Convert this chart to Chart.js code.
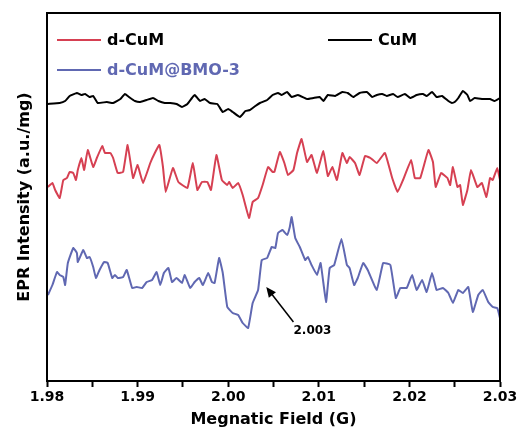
<!DOCTYPE html>
<html>
<head>
<meta charset="utf-8">
<script src="https://cdn.jsdelivr.net/npm/chart.js@4.4.0/dist/chart.umd.min.js"></script>
<style>
  html, body { margin: 0; padding: 0; background: #fff; }
  #wrap { width: 522px; height: 438px; }
</style>
</head>
<body>
<div id="wrap"><canvas id="epr"></canvas></div>
<script>
// magnetic field (G) and intensity (a.u./mg, stacked offsets)
const cumField = [1.9801,1.9814,1.9820,1.9825,1.9833,1.9838,1.9842,1.9847,1.9851,1.9856,1.9866,1.9873,1.9881,1.9886,1.9892,1.9897,1.9903,1.9910,1.9917,1.9923,1.9930,1.9936,1.9943,1.9949,1.9955,1.9960,1.9963,1.9969,1.9974,1.9980,1.9988,1.9994,2.0000,2.0005,2.0013,2.0019,2.0024,2.0030,2.0035,2.0043,2.0049,2.0055,2.0059,2.0065,2.0070,2.0077,2.0087,2.0094,2.0101,2.0105,2.0110,2.0118,2.0126,2.0132,2.0138,2.0145,2.0153,2.0159,2.0164,2.0170,2.0175,2.0182,2.0187,2.0195,2.0201,2.0208,2.0215,2.0219,2.0225,2.0230,2.0236,2.0243,2.0247,2.0250,2.0254,2.0259,2.0264,2.0267,2.0272,2.0281,2.0289,2.0294,2.0300];
const cumIntensity = [277,278,280,285,288,286,287,284,285,278,279,278,282,287,283,280,279,281,283,280,278,278,277,274,277,283,286,280,282,278,277,269,272,269,264,270,271,275,278,281,286,288,286,289,284,286,282,283,284,280,286,285,289,288,284,288,289,284,286,287,285,287,284,287,283,286,287,285,289,284,285,280,278,279,283,290,286,280,283,282,282,280,283];

const dCumField = [1.9801,1.9806,1.9809,1.9814,1.9818,1.9822,1.9825,1.9829,1.9832,1.9834,1.9838,1.9841,1.9845,1.9851,1.9855,1.9861,1.9864,1.9870,1.9873,1.9878,1.9884,1.9889,1.9895,1.9900,1.9906,1.9914,1.9919,1.9924,1.9928,1.9931,1.9939,1.9945,1.9955,1.9961,1.9966,1.9971,1.9977,1.9981,1.9987,1.9993,1.9999,2.0001,2.0005,2.0011,2.0016,2.0023,2.0027,2.0033,2.0038,2.0044,2.0049,2.0051,2.0057,2.0062,2.0066,2.0072,2.0076,2.0081,2.0087,2.0092,2.0098,2.0105,2.0110,2.0115,2.0120,2.0126,2.0131,2.0134,2.0140,2.0145,2.0151,2.0157,2.0164,2.0173,2.0181,2.0187,2.0193,2.0202,2.0206,2.0212,2.0221,2.0226,2.0229,2.0235,2.0242,2.0245,2.0248,2.0253,2.0256,2.0259,2.0264,2.0268,2.0275,2.0280,2.0285,2.0289,2.0292,2.0297,2.0300];
const dCumIntensity = [194,198,191,183,201,203,209,208,201,211,223,211,231,214,223,235,228,228,223,208,209,236,203,216,198,218,228,236,214,189,213,199,193,218,191,199,199,191,226,201,196,199,193,198,186,163,179,183,196,214,209,209,229,218,206,211,228,242,219,226,208,230,205,214,201,228,218,224,218,206,225,223,218,228,203,189,201,221,203,203,231,219,194,208,203,196,214,194,196,176,191,211,194,198,184,203,201,213,201];

const bmoField = [1.9801,1.9806,1.9811,1.9814,1.9818,1.9820,1.9823,1.9829,1.9833,1.9834,1.9840,1.9844,1.9847,1.9851,1.9854,1.9858,1.9863,1.9867,1.9872,1.9875,1.9878,1.9884,1.9888,1.9894,1.9899,1.9905,1.9910,1.9916,1.9921,1.9925,1.9929,1.9934,1.9938,1.9943,1.9949,1.9952,1.9958,1.9963,1.9968,1.9972,1.9978,1.9982,1.9985,1.9990,1.9994,1.9999,2.0005,2.0011,2.0016,2.0022,2.0027,2.0033,2.0037,2.0043,2.0048,2.0052,2.0055,2.0060,2.0065,2.0068,2.0070,2.0074,2.0079,2.0085,2.0088,2.0092,2.0098,2.0102,2.0108,2.0112,2.0117,2.0125,2.0131,2.0134,2.0139,2.0143,2.0149,2.0154,2.0164,2.0171,2.0179,2.0185,2.0190,2.0197,2.0203,2.0208,2.0214,2.0219,2.0225,2.0230,2.0237,2.0243,2.0248,2.0254,2.0259,2.0265,2.0270,2.0276,2.0281,2.0287,2.0292,2.0297,2.0300];
const bmoIntensity = [86,96,109,106,104,96,118,133,128,119,131,123,124,114,103,111,119,118,103,106,103,104,111,93,94,93,99,101,109,96,108,113,99,103,98,106,93,99,103,96,108,99,98,123,108,74,68,66,58,53,78,91,121,123,134,133,148,151,146,154,164,143,134,121,124,116,106,118,79,113,116,142,116,113,96,103,118,111,91,118,116,83,93,93,106,91,101,89,108,91,93,88,78,91,88,94,69,86,91,79,74,73,63];

const seriesNames = ["CuM", "d-CuM", "d-CuM@BMO-3"];
const xTicksMajor = ["1.98", "1.99", "2.00", "2.01", "2.02", "2.03"];

const FONT = "'DejaVu Sans', Arial, sans-serif";

function pairs(xs, ys) {
    return xs.map((x, i) => ({x: x, y: ys[i]}));
}

// legend drawn inside the frame, two columns like the original
const insideLegend = {
    id: 'insideLegend',
    afterDraw(chart) {
        const ctx = chart.ctx;
        const spots = [
            {ds: 1, x: 57, y: 40},
            {ds: 0, x: 328, y: 40},
            {ds: 2, x: 57, y: 70}
        ];
        ctx.save();
        ctx.font = "bold 16px " + FONT;
        ctx.textBaseline = 'middle';
        spots.forEach(s => {
            const ds = chart.data.datasets[s.ds];
            ctx.strokeStyle = ds.borderColor;
            ctx.lineWidth = 2;
            ctx.beginPath();
            ctx.moveTo(s.x, s.y);
            ctx.lineTo(s.x + 44, s.y);
            ctx.stroke();
            ctx.fillStyle = s.ds === 2 ? ds.borderColor : '#000';
            ctx.fillText(ds.label, s.x + 50, s.y + 1);
        });
        ctx.restore();
    }
};

// frame + the "2.003" arrow
const frameAndNote = {
    id: 'frameAndNote',
    afterDatasetsDraw(chart) {
        const ctx = chart.ctx;
        const a = chart.chartArea;
        const xs = chart.scales.x, ys = chart.scales.y;
        ctx.save();
        ctx.strokeStyle = '#000';
        ctx.lineWidth = 2;
        ctx.strokeRect(a.left, a.top, a.right - a.left, a.bottom - a.top);

        const x0 = xs.getPixelForValue(2.0072), y0 = ys.getPixelForValue(59);
        const x1 = xs.getPixelForValue(2.0042), y1 = ys.getPixelForValue(94);
        const ang = Math.atan2(y1 - y0, x1 - x0);
        ctx.lineWidth = 1.5;
        ctx.beginPath();
        ctx.moveTo(x0, y0);
        ctx.lineTo(x1 - 6 * Math.cos(ang), y1 - 6 * Math.sin(ang));
        ctx.stroke();
        ctx.fillStyle = '#000';
        ctx.beginPath();
        ctx.moveTo(x1, y1);
        ctx.lineTo(x1 - 10 * Math.cos(ang) + 4.5 * Math.sin(ang), y1 - 10 * Math.sin(ang) - 4.5 * Math.cos(ang));
        ctx.lineTo(x1 - 10 * Math.cos(ang) - 4.5 * Math.sin(ang), y1 - 10 * Math.sin(ang) + 4.5 * Math.cos(ang));
        ctx.closePath();
        ctx.fill();

        ctx.font = "bold 12px " + FONT;
        ctx.textAlign = 'center';
        ctx.textBaseline = 'middle';
        ctx.fillText("2.003", xs.getPixelForValue(2.0093), ys.getPixelForValue(50));
        ctx.restore();
    }
};

new Chart(document.getElementById("epr").getContext("2d"), {
    type: 'line',
    data: {
        datasets: [
            {label: seriesNames[0], data: pairs(cumField, cumIntensity), borderColor: "rgb(0, 0, 0)"},
            {label: seriesNames[1], data: pairs(dCumField, dCumIntensity), borderColor: "rgb(214, 64, 82)"},
            {label: seriesNames[2], data: pairs(bmoField, bmoIntensity), borderColor: "rgb(96, 104, 178)"}
        ]
    },
    options: {
        responsive: true,
        maintainAspectRatio: false,
        animation: false,
        layout: {padding: {top: 13, right: 22, left: 0, bottom: 0}},
        elements: {
            point: {radius: 0},
            line: {borderWidth: 2, tension: 0.1, fill: false}
        },
        plugins: {
            legend: {display: false},
            tooltip: {enabled: false}
        },
        scales: {
            x: {
                type: 'linear',
                min: 1.98,
                max: 2.03,
                afterFit(scale) { scale.height = 57; },
                border: {display: true, color: '#000', width: 2},
                grid: {drawOnChartArea: false, drawTicks: true, tickLength: 6, tickColor: '#000', tickWidth: 2},
                ticks: {
                    stepSize: 0.005,
                    autoSkip: false,
                    maxRotation: 0,
                    color: '#000',
                    padding: 2,
                    font: {family: FONT, size: 14, weight: 'bold'},
                    callback(v) {
                        const k = Math.round(v * 1000);
                        return k % 10 === 0 ? xTicksMajor[Math.round((v - 1.98) * 100)] : '';
                    }
                },
                title: {
                    display: true,
                    text: 'Megnatic Field (G)',
                    color: '#000',
                    font: {family: FONT, size: 16, weight: 'bold'},
                    padding: {top: 2, bottom: 9}
                }
            },
            y: {
                min: 0,
                max: 368,
                afterFit(scale) { scale.width = 47; },
                border: {display: false},
                grid: {display: false},
                ticks: {display: false},
                title: {
                    display: true,
                    text: 'EPR Intensity (a.u./mg)',
                    color: '#000',
                    font: {family: FONT, size: 16, weight: 'bold'},
                    padding: {top: 15, bottom: 0}
                }
            }
        }
    },
    plugins: [insideLegend, frameAndNote]
});
</script>
</body>
</html>
